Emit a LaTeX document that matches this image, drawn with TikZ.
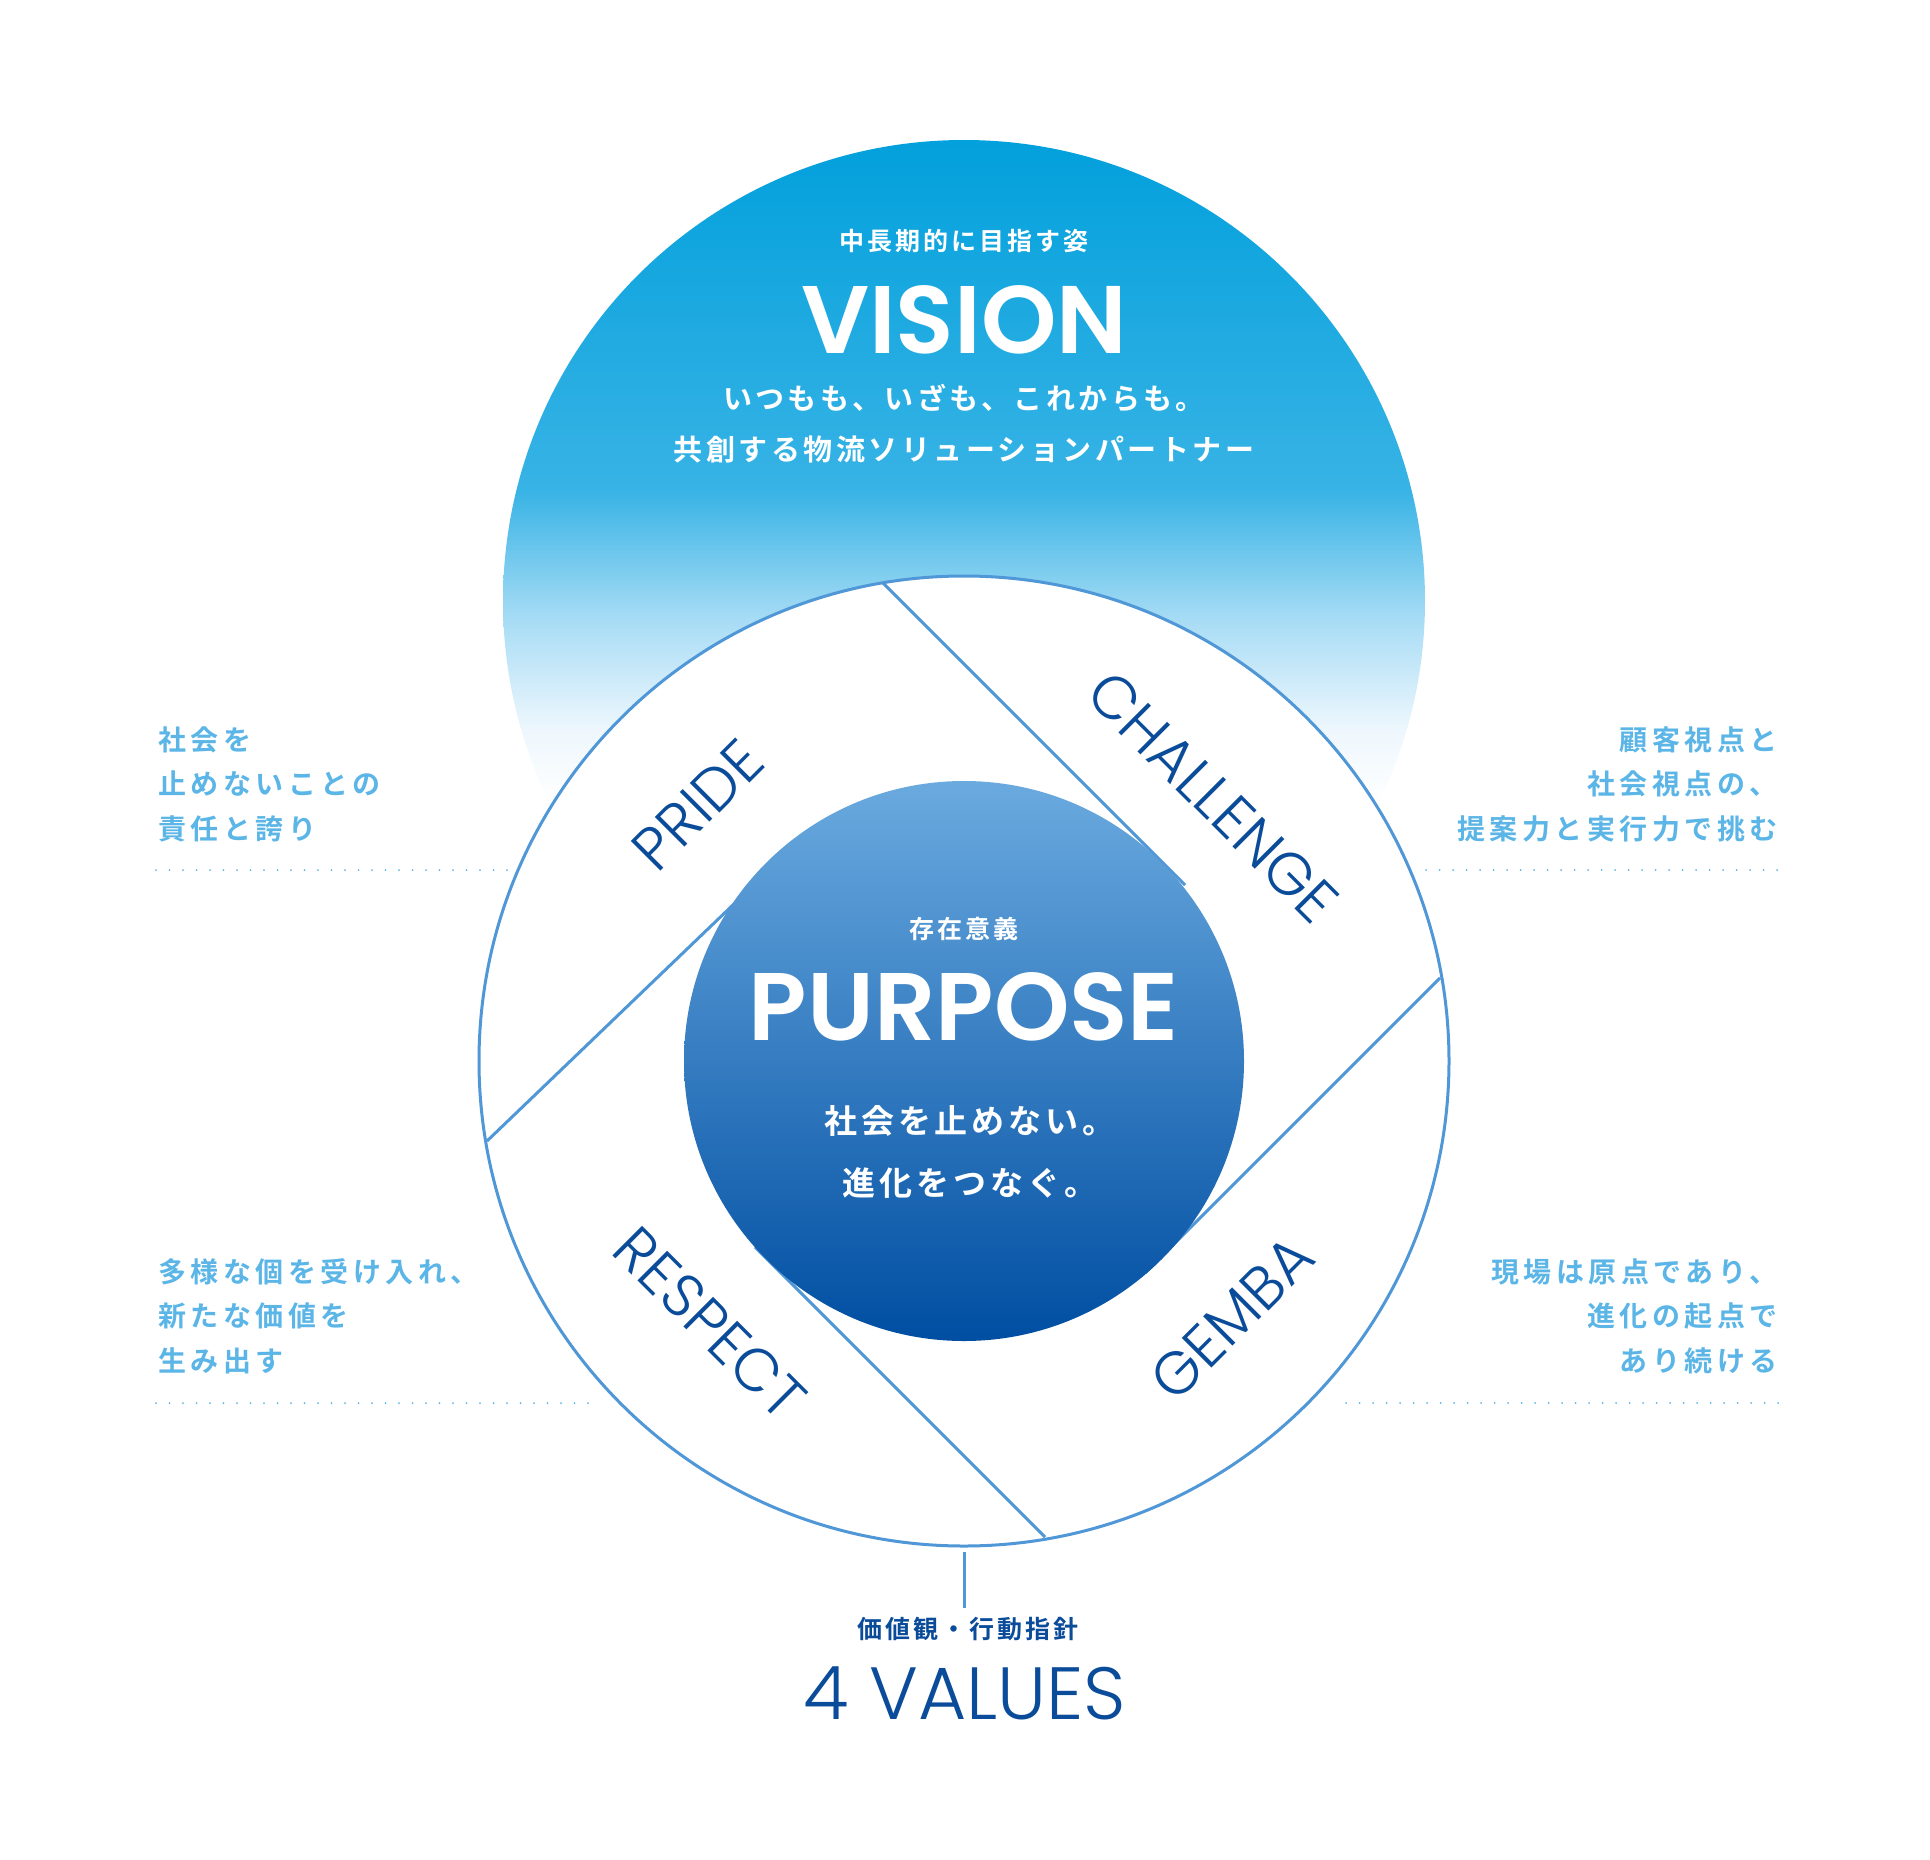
\documentclass[tikz,border=0pt]{standalone}
\usepackage{fontspec}
\newfontfamily\cjkb[LetterSpace=12]{Noto Sans CJK JP Bold}
\newfontfamily\cjks[LetterSpace=16]{Noto Sans CJK JP Bold}
\newfontfamily\latb{Poppins SemiBold}
\newfontfamily\latl{Poppins Light}
\definecolor{vc0}{HTML}{02A0DC}
\definecolor{vc1}{HTML}{38B3E5}
\definecolor{vc2}{HTML}{A7DCF5}
\definecolor{vc3}{HTML}{EEF7FD}
\definecolor{pc0}{HTML}{6AAADF}
\definecolor{pc1}{HTML}{004EA2}
\definecolor{ring}{HTML}{4F97D6}
\definecolor{lb}{HTML}{5BB5E6}
\definecolor{db}{HTML}{0A4C9A}
\pgfdeclareverticalshading{vis}{100bp}{color(0bp)=(white); color(39bp)=(white); color(43bp)=(vc3); color(49bp)=(vc2); color(56bp)=(vc1); color(75bp)=(vc0); color(100bp)=(vc0)}
\pgfdeclareverticalshading{pur}{100bp}{color(0bp)=(pc1); color(25bp)=(pc1); color(75bp)=(pc0); color(100bp)=(pc0)}
\begin{document}
\begin{tikzpicture}[x=1pt,y=-1pt,
  ringline/.style={draw=ring,line width=3pt},
  side/.style={text=lb,font=\cjks\fontsize{28}{30}\selectfont,inner sep=0},
  dots/.style={draw=lb,line width=2pt,line cap=round,dash pattern=on 0pt off 13.5pt},
  val/.style={text=db,font=\latl\fontsize{60}{60}\selectfont,inner sep=0},
  wt/.style={text=white,inner sep=0}]
\useasboundingbox (0,0) rectangle (1930,1860);
\begin{scope}[xshift=-5pt,yshift=3pt]
\shade[shading=vis] (969,604) circle[radius=461];
\coordinate (oc) at (969,1064);
\filldraw[fill=white,ringline] (oc) circle[radius=485];
\coordinate (a1) at (888,586); \coordinate (b1) at (1190,888);
\coordinate (a2) at (492,1144); \coordinate (b2) at (790,858);
\coordinate (a3) at (1445,981); \coordinate (b3) at (1150,1276);
\coordinate (a4) at (1050,1540); \coordinate (b4) at (760,1250);
\draw[ringline] (a1) -- (b1); \draw[ringline] (a2) -- (b2);
\draw[ringline] (a3) -- (b3); \draw[ringline] (a4) -- (b4);
\shade[shading=pur] (oc) circle[radius=280];
% vision texts
\node[wt,font=\cjkb\fontsize{25}{25}\selectfont] (vsub) at (969,244) {中長期的に目指す姿};
\node[wt,font=\latb\fontsize{96}{96}\selectfont] (vis) at (969,323) {VISION};
\node[wt,font=\cjkb\fontsize{29}{29}\selectfont] (v1) at (969,401) {いつもも、いざも、これからも。};
\node[wt,font=\cjkb\fontsize{29}{29}\selectfont] (v2) at (969,452) {共創する物流ソリューションパートナー};
% purpose texts
\node[wt,font=\cjkb\fontsize{25}{25}\selectfont] (psub) at (969,932) {存在意義};
\node[wt,font=\latb\fontsize{96}{96}\selectfont] (pur) at (969,1010) {PURPOSE};
\node[wt,font=\cjkb\fontsize{33}{33}\selectfont] (p1) at (975,1124) {社会を止めない。};
\node[wt,font=\cjkb\fontsize{33}{33}\selectfont] (p2) at (975,1186) {進化をつなぐ。};
% values
\node[val,rotate=45] (pride) at (703,808) {PRIDE};
\node[val,rotate=-45] (chal) at (1218,800) {CHALLENGE};
\node[val,rotate=-45] (resp) at (715,1326) {RESPECT};
\node[val,rotate=45] (gemba) at (1237,1321) {GEMBA};
\end{scope}
% side texts
\node[side,anchor=west] (l1) at (158,740) {社会を};
\node[side,anchor=west] (l2) at (158,784) {止めないことの};
\node[side,anchor=west] (l3) at (158,829) {責任と誇り};
\node[side,anchor=east] (r1) at (1778,740) {顧客視点と};
\node[side,anchor=east] (r2) at (1778,784) {社会視点の、};
\node[side,anchor=east] (r3) at (1778,829) {提案力と実行力で挑む};
\node[side,anchor=west] (l4) at (158,1272) {多様な個を受け入れ、};
\node[side,anchor=west] (l5) at (158,1316) {新たな価値を};
\node[side,anchor=west] (l6) at (158,1361) {生み出す};
\node[side,anchor=east] (r4) at (1778,1272) {現場は原点であり、};
\node[side,anchor=east] (r5) at (1778,1316) {進化の起点で};
\node[side,anchor=east] (r6) at (1778,1361) {あり続ける};
\coordinate (d1a) at (156,870); \coordinate (d1b) at (513,870);
\coordinate (d2a) at (1426,870); \coordinate (d2b) at (1783,870);
\coordinate (d3a) at (156,1403); \coordinate (d3b) at (594,1403);
\coordinate (d4a) at (1346,1403); \coordinate (d4b) at (1783,1403);
\draw[dots] (d1a) -- (d1b); \draw[dots] (d2a) -- (d2b);
\draw[dots] (d3a) -- (d3b); \draw[dots] (d4a) -- (d4b);
% bottom
\coordinate (t1) at (964,1552); \coordinate (t2) at (964,1608);
\draw[ringline] (t1) -- (t2);
\node[inner sep=0,text=db,font=\cjkb\fontsize{25}{25}\selectfont] (vsub2) at (968,1629) {価値観・行動指針};
\node[val,font=\latl\fontsize{74}{74}\selectfont] (four) at (965,1693) {4 VALUES};
\end{tikzpicture}
\end{document}
